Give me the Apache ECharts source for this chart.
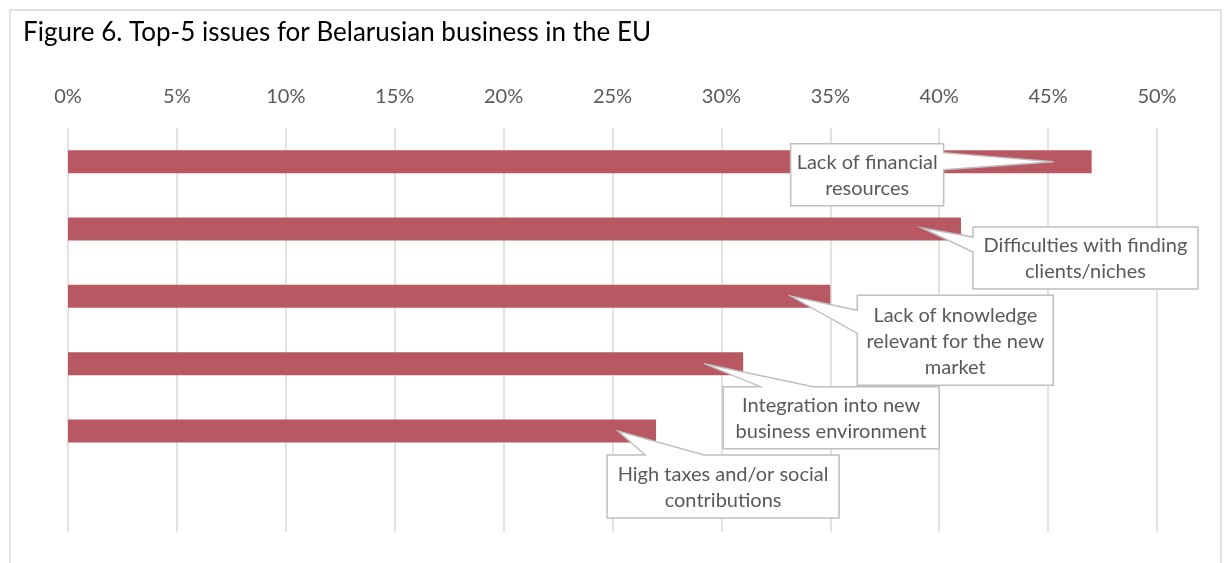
<!DOCTYPE html>
<html><head><meta charset="utf-8">
<script src="https://cdn.jsdelivr.net/npm/echarts@6/dist/echarts.min.js"></script>
<style>html,body{margin:0;padding:0;background:#fff}#c{width:1224px;height:563px}</style>
</head><body><div id="c"></div>
<script>
const title = 'Figure 6. Top-5 issues for Belarusian business in the EU';
const categories = ['Lack of financial resources', 'Difficulties with finding clients/niches', 'Lack of knowledge relevant for the new market', 'Integration into new business environment', 'High taxes and/or social contributions', ''];
const values = [47, 41, 35, 31, 27];
const calloutText = ['Lack of financial\nresources', 'Difficulties with finding\nclients/niches', 'Lack of knowledge\nrelevant for the new\nmarket', 'Integration into new\nbusiness environment', 'High taxes and/or social\ncontributions'];
const tickMax = 50, tickStep = 5;

// layout of callouts relative to bar end (pixels)
const calloutLayout = [
  {box: [-301, -18, 153, 62], side: 'right', base: [-9, 8], ptr: [-38, 0]},
  {box: [12, -2, 225, 62], side: 'left', base: [8, 23], ptr: [-39, -1]},
  {box: [27, -1, 196, 90], side: 'left', base: [14, 37], ptr: [-39, 0]},
  {box: [-20, 23, 216, 62], side: 'top', base: [17, 70], ptr: [-39, 0]},
  {box: [-49, 24, 232, 63], side: 'top', base: [-11, 48], ptr: [-38, 0]}
];

const FONT = 'Lato, "Source Sans Pro", "Open Sans", sans-serif';
const chart = echarts.init(document.getElementById('c'), null, {renderer: 'canvas'});

function calloutItem(params, api) {
  const i = params.dataIndex;
  const L = calloutLayout[i];
  const p = api.coord([api.value(0), api.value(1)]);
  const ex = p[0], ey = p[1];
  const x0 = ex + L.box[0], y0 = ey + L.box[1];
  const x1 = x0 + L.box[2], y1 = y0 + L.box[3];
  const px = ex + L.ptr[0], py = ey + L.ptr[1];
  const pts = [[x0, y0]];
  if (L.side === 'top') { pts.push([ex + L.base[0], y0], [px, py], [ex + L.base[1], y0]); }
  pts.push([x1, y0]);
  if (L.side === 'right') { pts.push([x1, ey + L.base[0]], [px, py], [x1, ey + L.base[1]]); }
  pts.push([x1, y1]);
  pts.push([x0, y1]);
  if (L.side === 'left') { pts.push([x0, ey + L.base[1]], [px, py], [x0, ey + L.base[0]]); }
  return {
    type: 'group',
    children: [
      {type: 'polygon', shape: {points: pts}, style: {fill: '#fff', stroke: '#bfbfbf', lineWidth: 1.5}},
      {type: 'text', style: {text: calloutText[i], x: (x0 + x1) / 2, y: (y0 + y1) / 2 + 1, align: 'center', verticalAlign: 'middle',
        fontSize: 20, fontFamily: FONT, fill: '#595959', lineHeight: 26}}
    ]
  };
}

chart.setOption({
  animation: false,
  title: {text: title, left: 18, top: 15, textStyle: {fontSize: 26, fontWeight: 'normal', color: '#000', fontFamily: FONT}},
  graphic: [{type: 'rect', shape: {x: 10, y: 10, width: 1211, height: 600}, style: {fill: 'none', stroke: '#d9d9d9', lineWidth: 1.5}, z: -10}],
  grid: {left: 68, right: 67, top: 128, bottom: 31, containLabel: false},
  xAxis: {type: 'value', position: 'top', min: 0, max: tickMax, interval: tickStep,
    axisLine: {show: false}, axisTick: {show: false},
    axisLabel: {formatter: '{value}%', color: '#595959', fontSize: 20, fontFamily: FONT, margin: 21},
    splitLine: {lineStyle: {color: '#d9d9d9', width: 1.5}}},
  yAxis: {type: 'category', inverse: true, data: categories,
    axisLine: {show: false}, axisTick: {show: false}, axisLabel: {show: false}},
  series: [
    {type: 'bar', data: values, barWidth: 23, itemStyle: {color: '#b85862'}, z: 2},
    {type: 'custom', renderItem: calloutItem, data: values.map((v, i) => [v, i]), z: 5, encode: {x: 0, y: 1}}
  ]
});
</script></body></html>
